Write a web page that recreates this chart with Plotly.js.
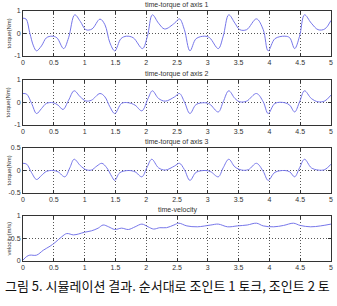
<!DOCTYPE html>
<html><head><meta charset="utf-8">
<script src="https://cdn.plot.ly/plotly-3.0.1.min.js"></script>
<style>html,body{margin:0;padding:0;background:#fff}#c{width:337px;height:306px}</style>
</head><body><div id="c"></div><script>
// ---- data ----
const t1 = [0,0.05,0.11,0.17,0.22,0.30,0.38,0.47,0.55,0.66,0.74,0.84,0.93,1.02,1.12,1.25,1.33,1.41,1.49,1.59,1.68,1.79,1.94,2.02,2.10,2.20,2.30,
            2.46,2.54,2.62,2.71,2.81,2.95,3.03,3.17,3.25,3.34,3.44,3.52,3.63,3.79,3.90,3.98,4.09,4.25,4.33,4.41,4.49,4.57,4.68,4.79,4.90,5.0];
const torque1 = [0.68,0.64,0.03,-0.55,-0.77,-0.55,-0.19,-0.12,-0.19,-0.67,-0.19,0.83,0.54,0.17,0.2,0.64,0.39,-0.41,-0.77,-0.23,-0.12,-0.19,-0.67,-0.12,0.83,0.46,0.2,
            0.46,0.65,0.17,-0.77,-0.23,-0.12,-0.19,-0.67,-0.12,0.83,0.46,0.17,0.17,0.65,0.17,-0.77,-0.23,-0.12,-0.19,-0.67,-0.12,0.83,0.46,0.17,0.2,0.58];

const t2 = [0,0.06,0.14,0.22,0.30,0.38,0.49,0.57,0.65,0.74,0.83,0.93,1.02,1.11,1.25,1.33,1.41,1.49,1.60,1.71,1.82,1.93,2.03,2.10,2.20,2.31,
            2.46,2.54,2.62,2.71,2.81,2.95,3.03,3.17,3.25,3.34,3.44,3.52,3.63,3.79,3.90,3.98,4.09,4.25,4.33,4.41,4.49,4.57,4.68,4.79,4.90,5.0];
const torque2 = [0.4,0.37,-0.04,-0.49,-0.27,-0.04,-0.01,-0.12,-0.31,0.1,0.52,0.25,0.07,0.1,0.4,0.25,-0.19,-0.49,-0.04,-0.01,-0.12,-0.37,0.18,0.52,0.18,0.06,
            0.25,0.4,0.03,-0.49,-0.09,-0.01,-0.07,-0.42,0.03,0.52,0.18,0.03,0.06,0.4,0.03,-0.49,-0.04,-0.01,-0.12,-0.42,0.03,0.52,0.18,0.03,0.07,0.33];

const t3 = [0,0.06,0.14,0.22,0.30,0.38,0.49,0.57,0.68,0.76,0.83,0.93,1.02,1.11,1.20,1.28,1.36,1.44,1.49,1.57,1.71,1.82,1.93,2.01,2.09,2.20,2.31,
            2.46,2.54,2.62,2.71,2.81,2.97,3.05,3.17,3.25,3.34,3.44,3.55,3.66,3.79,3.90,3.98,4.09,4.25,4.33,4.41,4.49,4.57,4.68,4.79,4.90,5.0];
const torque3 = [0.16,0.14,-0.05,-0.2,-0.11,-0.02,0,-0.03,-0.14,0.06,0.25,0.11,0.02,0.01,0.1,0.16,0.06,-0.13,-0.22,-0.05,0,-0.03,-0.14,0.06,0.25,0.06,0.01,
            0.1,0.16,0.02,-0.22,-0.04,0,-0.03,-0.14,0.06,0.25,0.08,0.01,0.02,0.16,-0.02,-0.22,-0.04,0,-0.03,-0.14,0.06,0.25,0.06,0.01,0.02,0.14];

const t4 = [0,0.06,0.11,0.22,0.33,0.44,0.52,0.63,0.71,0.82,0.90,1.0,1.11,1.22,1.30,1.39,1.49,1.60,1.71,1.82,1.93,2.03,2.12,2.22,2.33,
            2.45,2.53,2.66,2.83,3.05,3.17,3.32,3.48,3.64,3.79,3.90,4.07,4.23,4.39,4.50,4.67,4.83,5.0];
const velocity = [0.02,0.10,0.13,0.13,0.24,0.33,0.41,0.54,0.61,0.58,0.60,0.64,0.67,0.73,0.80,0.76,0.70,0.73,0.70,0.76,0.82,0.76,0.71,0.74,0.74,
            0.80,0.84,0.78,0.76,0.80,0.82,0.76,0.78,0.80,0.84,0.78,0.76,0.79,0.84,0.79,0.76,0.78,0.82];

const xTicks = [0,0.5,1,1.5,2,2.5,3,3.5,4,4.5,5];
const xTickText = ['0','0.5','1','1.5','2','2.5','3','3.5','4','4.5','5'];
const yTicks = [[-1,0,1],[-1,0,1],[-0.5,0,0.5],[0,0.5,1]];
const yTickText = [['-1','0','1'],['-1','0','1'],['-0.5','0','0.5'],['0','0.5','1']];
const yRanges = [[-1,1],[-1,1],[-0.5,0.5],[0,1]];
const titles = ['time-torque of axis 1','time-torque of axis 2','time-torque of axis 3','time-velocity'];
const yLabels = ['torque(Nm)','torque(Nm)','torque(Nm)','velocity(m/s)'];
const caption = '그림 5. 시뮬레이션 결과. 순서대로 조인트 1 토크, 조인트 2 토';

// ---- layout ----
const W = 337, H = 306;
const plotLeft = 23, plotRight = 331;
const tops = [11, 80, 148, 216];
const heights = [45, 45, 45, 45];
const xs = [t1, t2, t3, t4];
const ys = [torque1, torque2, torque3, velocity];
const lineColor = 'rgb(118,118,234)';
const tickFont = {family: 'Liberation Sans, Arial, sans-serif', size: 7, color: '#333'};

const data = [];
const layout = {
  width: W, height: H,
  margin: {l: 0, r: 0, t: 0, b: 0},
  paper_bgcolor: '#fff', plot_bgcolor: '#fff',
  showlegend: false,
  annotations: []
};
for (let i = 0; i < 4; i++) {
  const n = i === 0 ? '' : String(i + 1);
  data.push({
    x: xs[i], y: ys[i], type: 'scatter', mode: 'lines',
    line: {color: lineColor, width: 1, shape: 'spline', smoothing: 1},
    xaxis: 'x' + n, yaxis: 'y' + n, hoverinfo: 'skip'
  });
  const top = tops[i], bot = tops[i] + heights[i];
  const common = {
    showline: true, mirror: 'all', linecolor: '#333', linewidth: 1,
    ticks: 'inside', ticklen: 3, tickcolor: '#333', tickwidth: 1,
    showgrid: true, griddash: '1px,2px', gridcolor: '#555', gridwidth: 1,
    zeroline: false, tickfont: tickFont, fixedrange: true
  };
  layout['xaxis' + n] = Object.assign({}, common, {
    domain: [plotLeft / W, plotRight / W], anchor: 'y' + n,
    range: [0, 5], tickmode: 'array', tickvals: xTicks, ticktext: xTickText
  });
  layout['yaxis' + n] = Object.assign({}, common, {
    domain: [1 - bot / H, 1 - top / H], anchor: 'x' + n,
    range: yRanges[i], tickmode: 'array', tickvals: yTicks[i], ticktext: yTickText[i]
  });
  layout.annotations.push({
    text: titles[i], xref: 'paper', yref: 'paper',
    x: (plotLeft + plotRight) / 2 / W, y: 1 - (top - 6) / H,
    xanchor: 'center', yanchor: 'middle', showarrow: false,
    font: {family: 'Liberation Sans, Arial, sans-serif', size: 7, color: '#333'}
  });
  layout.annotations.push({
    text: yLabels[i], xref: 'paper', yref: 'paper',
    x: 8 / W, y: 1 - (top + heights[i] / 2) / H,
    xanchor: 'center', yanchor: 'middle', textangle: -90, showarrow: false,
    font: {family: 'Liberation Sans, Arial, sans-serif', size: 6, color: '#333'}
  });
}
layout.annotations.push({
  text: caption, xref: 'paper', yref: 'paper',
  x: 3 / W, y: 1 - 285 / H, xanchor: 'left', yanchor: 'middle', showarrow: false,
  font: {family: 'Noto Sans CJK KR, sans-serif', size: 13, color: '#111'}
});

Plotly.newPlot('c', data, layout, {displayModeBar: false, staticPlot: true});
</script></body></html>
